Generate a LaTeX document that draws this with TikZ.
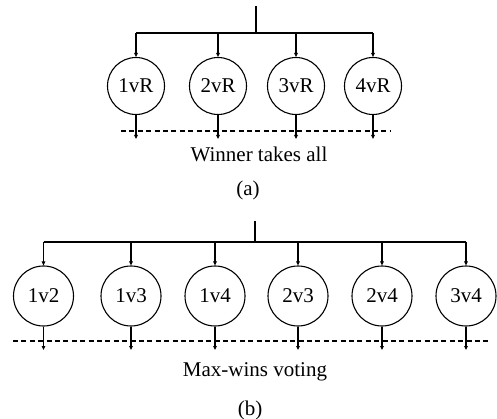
\documentclass[tikz,border=0pt]{standalone}
\usepackage{fontspec}
\setmainfont{Liberation Serif}
\usetikzlibrary{arrows.meta}
\begin{document}
\begin{tikzpicture}[x=1pt,y=-1pt,
  line width=1.1pt,
  every node/.style={font=\fontsize{21}{25}\selectfont},
  votea/.style={circle,draw,minimum size=57pt,inner sep=0pt},
  voteb/.style={circle,draw,minimum size=60pt,inner sep=0pt},
  arr/.style={-{Triangle[length=4pt,width=3.5pt]}},
  dsh/.style={dash pattern=on 5pt off 3.4pt}]
\useasboundingbox (0,0) rectangle (497,419);
% (a)
\coordinate (ta) at (256,6);
\coordinate (ha) at (256,33);
\foreach \i/\x/\t in {1/136/1vR,2/218/2vR,3/296/3vR,4/373/4vR}{
  \node[votea] (a\i) at (\x,86) {\t};
  \coordinate (ab\i) at (\x,33);
  \coordinate (ae\i) at (\x,139);
  \draw[arr] (ab\i) -- (a\i.north);
  \draw[arr] (a\i.south) -- (ae\i);
}
\draw (ta) -- (ha);
\draw (ab1) -- (ab4);
\coordinate (dal) at (121,131);
\coordinate (dar) at (391,131);
\draw[dsh] (dal) -- (dar);
\node (wa) at (259,154) {Winner takes all};
\node (capa) at (248,190) {(a)};
% (b)
\coordinate (tb) at (255,221);
\coordinate (hb) at (255,242);
\foreach \i/\x/\t in {1/43.5/1v2,2/131/1v3,3/215/1v4,4/298/2v3,5/382/2v4,6/466/3v4}{
  \node[voteb] (b\i) at (\x,296) {\t};
  \coordinate (bb\i) at (\x,242);
  \coordinate (be\i) at (\x,350);
  \draw[arr] (bb\i) -- (b\i.north);
  \draw[arr] (b\i.south) -- (be\i);
}
\draw (tb) -- (hb);
\draw (bb1) -- (bb6);
\coordinate (dbl) at (13,341);
\coordinate (dbr) at (490,341);
\draw[dsh] (dbl) -- (dbr);
\node (wb) at (255,372) {Max-wins voting};
\node (capb) at (250,410) {(b)};
\end{tikzpicture}
\end{document}
